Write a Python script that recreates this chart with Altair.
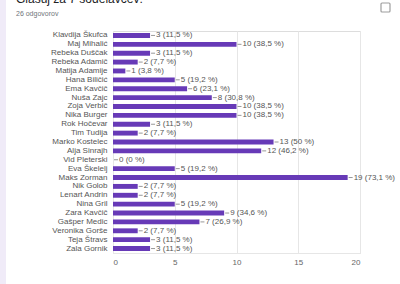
import altair as alt
import pandas as pd

names = ["Klavdija Škufca", "Maj Mihalić", "Rebeka Duščak", "Rebeka Adamič", "Matija Adamije",
         "Hana Biličić", "Ema Kavčič", "Nuša Zajc", "Zoja Verbič", "Nika Burger",
         "Rok Hočevar", "Tim Tudija", "Marko Kostelec", "Alja Sinrajh", "Vid Pleterski",
         "Eva Škelelj", "Maks Zorman", "Nik Golob", "Lenart Andrin", "Nina Gril",
         "Zara Kavčič", "Gašper Medic", "Veronika Gorše", "Teja Štravs", "Zala Gornik"]
counts = [3, 10, 3, 2, 1, 5, 6, 8, 10, 10, 3, 2, 13, 12, 0, 5, 19, 2, 2, 5, 9, 7, 2, 3, 3]
pcts = ["11,5", "38,5", "11,5", "7,7", "3,8", "19,2", "23,1", "30,8", "38,5", "38,5",
        "11,5", "7,7", "50", "46,2", "0", "19,2", "73,1", "7,7", "7,7", "19,2",
        "34,6", "26,9", "7,7", "11,5", "11,5"]
x_ticks = [0, 5, 10, 15, 20]
title_text = "Glasuj za 7 sodelavcev:"
subtitle_text = "26 odgovorov"

df = pd.DataFrame({
    "name": names,
    "count": counts,
    "label": [f"{c} ({p} %)" for c, p in zip(counts, pcts)],
})

FONT = "Liberation Sans"
PURPLE = "#673ab7"

y_enc = alt.Y("name:N", sort=names,
              scale=alt.Scale(paddingInner=0.45, paddingOuter=0.225),
              axis=alt.Axis(title=None, ticks=False, domain=False, labelFontSize=8,
                            labelColor="#555555", labelPadding=6, labelFont=FONT))
x_enc = alt.X("count:Q", scale=alt.Scale(domain=[0, 20], nice=False),
              axis=alt.Axis(values=x_ticks, title=None, labelFontSize=8, labelColor="#666666",
                            gridColor="#e6e6e6", domain=True, domainColor="#e6e6e6",
                            ticks=False, labelPadding=5, labelFont=FONT))

base = alt.Chart(df)
bars = base.mark_bar(color=PURPLE).encode(x=x_enc, y=y_enc)
leaders = base.mark_rule(color="#999999", strokeWidth=1, xOffset=1, x2Offset=5).encode(
    x="count:Q", x2="count:Q", y=alt.Y("name:N", sort=names, bandPosition=0.5))
labels = base.mark_text(align="left", baseline="middle", dx=6, fontSize=8,
                        color="#555555", font=FONT).encode(
    x="count:Q", y=alt.Y("name:N", sort=names, bandPosition=0.5), text="label:N")

deco_df = pd.DataFrame({"t": [title_text], "s": [subtitle_text]})
deco = alt.Chart(deco_df)
title = deco.mark_text(align="left", baseline="alphabetic", fontSize=12, color="#202124",
                       font=FONT).encode(x=alt.value(-97), y=alt.value(-28), text="t:N")
subtitle = deco.mark_text(align="left", baseline="middle", fontSize=7, color="#70757a",
                          font=FONT).encode(x=alt.value(-97), y=alt.value(-17), text="s:N")
strip = deco.mark_rect(color="#f0ebf8").encode(
    x=alt.value(-113), x2=alt.value(-107), y=alt.value(-31), y2=alt.value(253))
icon = deco.mark_rect(fill="white", stroke="#9e9e9e", strokeWidth=1.2, cornerRadius=1).encode(
    x=alt.value(268), x2=alt.value(277), y=alt.value(-28), y2=alt.value(-19))

chart = alt.layer(strip, bars, leaders, labels, title, subtitle, icon).properties(
    width=247, height=222,
    autosize=alt.AutoSizeParams(type="none"),
    padding={"left": 113, "top": 31, "right": 40, "bottom": 31},
).configure_view(stroke=None).configure(background="white")

chart.save("out.html", embed_options={"renderer": "svg", "actions": False})
